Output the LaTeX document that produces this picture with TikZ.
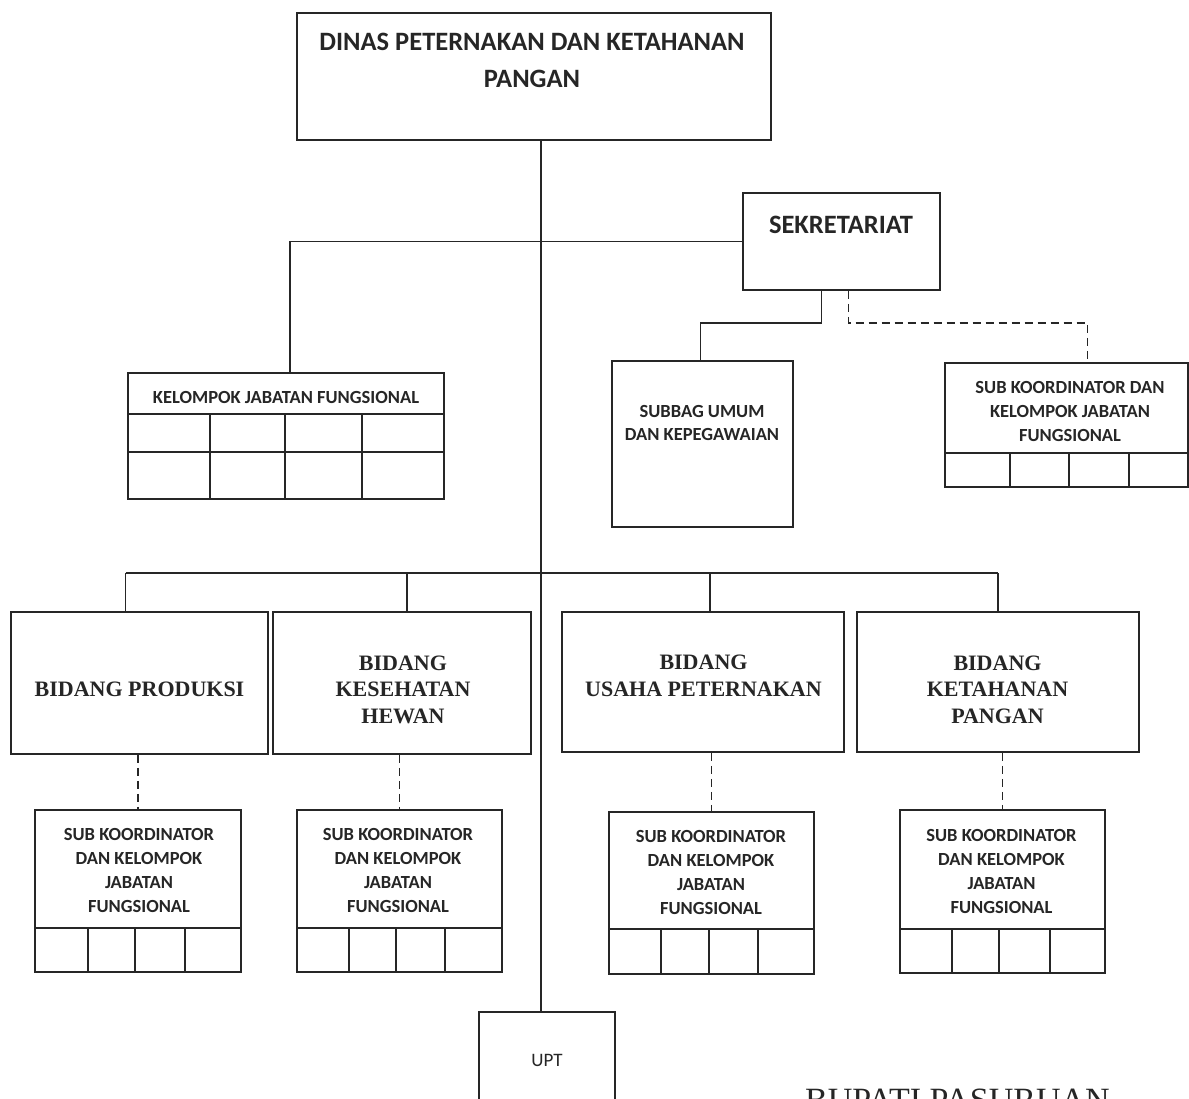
\documentclass[tikz,border=0pt]{standalone}
\usepackage{fontspec}
\setmainfont{Carlito}
\newfontfamily\serifbidang{Liberation Serif}

\tikzset{
  kotak/.style={draw=black!85, line width=1.6pt, inner sep=0pt},
  judul/.style={font=\fontsize{26.5}{37}\selectfont\bfseries, align=center, text=black!85, inner sep=0pt},
  kecil/.style={font=\fontsize{18.5}{24}\selectfont\bfseries, align=center, text=black!85, inner sep=0pt},
  biasa/.style={font=\fontsize{19}{23}\selectfont, text=black!85, inner sep=0pt},
  bidangtxt/.style={font=\serifbidang\fontsize{22}{26.5}\selectfont\bfseries, align=center, text=black!85, inner sep=0pt},
  garis/.style={draw=black!85, line width=1.6pt},
  putus/.style={garis, dash pattern=on 8pt off 5pt},
}

\begin{document}
\begin{tikzpicture}[x=1pt,y=-1pt]
\useasboundingbox (0,0) rectangle (1189,1098);
\clip (0,0) rectangle (1189,1098);
\fill[white] (0,0) rectangle (1189,1098);

% kepala dinas dan sekretariat
\node[kotak, minimum width=474pt, minimum height=127pt] (dinas) at (534,76.5) {};
\node[judul] (dinasTxt) at (532,60.5) {DINAS PETERNAKAN DAN KETAHANAN\\PANGAN};
\node[kotak, minimum width=197pt, minimum height=97pt] (sekre) at (841.5,241.5) {};
\node[judul] (sekreTxt) at (841,225) {SEKRETARIAT};
\coordinate (trunk) at (541,0);

% kelompok jabatan fungsional
\node[kotak, minimum width=316pt, minimum height=126pt] (kjf) at (286,436) {};
\node[kecil] (kjfTxt) at (286,397) {KELOMPOK JABATAN FUNGSIONAL};
\draw[garis] (128,414) -- (444,414);
\draw[garis] (128,452) -- (444,452);
\foreach \x in {210,285,362} \draw[garis] (\x,414) -- (\x,499);

% subbag dan sub koordinator sekretariat
\node[kotak, minimum width=181pt, minimum height=166pt] (subbag) at (702.5,444) {};
\node[kecil, font=\fontsize{18.5}{22.5}\selectfont\bfseries] (subbagTxt) at (702,423) {SUBBAG UMUM\\DAN KEPEGAWAIAN};
\node[kotak, minimum width=243pt, minimum height=124pt] (skSek) at (1066.5,425) {};
\node[kecil] (skSekTxt) at (1070,411) {SUB KOORDINATOR DAN\\KELOMPOK JABATAN\\FUNGSIONAL};

% bidang
\node[kotak, minimum width=257pt, minimum height=142pt] (produksi) at (139.5,683) {};
\node[kotak, minimum width=258pt, minimum height=142pt] (kesehatan) at (402,683) {};
\node[kotak, minimum width=282pt, minimum height=140pt] (usaha) at (703,682) {};
\node[kotak, minimum width=282pt, minimum height=140pt] (ketahanan) at (998,682) {};
\node[bidangtxt] (produksiTxt) at (139.5,689) {BIDANG PRODUKSI};
\node[bidangtxt] (kesehatanTxt) at (403,689.5) {BIDANG\\KESEHATAN\\HEWAN};
\node[bidangtxt] (usahaTxt) at (703.5,676) {BIDANG\\USAHA PETERNAKAN};
\node[bidangtxt] (ketahananTxt) at (997.5,689.5) {BIDANG\\KETAHANAN\\PANGAN};

% sub koordinator tiap bidang
\node[kotak, minimum width=206pt, minimum height=162pt] (sk1) at (138,891) {};
\node[kotak, minimum width=205pt, minimum height=162pt] (sk2) at (399.5,891) {};
\node[kotak, minimum width=205pt, minimum height=162pt] (sk3) at (711.5,893) {};
\node[kotak, minimum width=205pt, minimum height=163pt] (sk4) at (1002.5,891.5) {};
\node[kecil] (sk1Txt) at (139,870.5) {SUB KOORDINATOR\\DAN KELOMPOK\\JABATAN\\FUNGSIONAL};
\node[kecil] (sk2Txt) at (398,870.5) {SUB KOORDINATOR\\DAN KELOMPOK\\JABATAN\\FUNGSIONAL};
\node[kecil] (sk3Txt) at (711,872) {SUB KOORDINATOR\\DAN KELOMPOK\\JABATAN\\FUNGSIONAL};
\node[kecil] (sk4Txt) at (1001.5,871.5) {SUB KOORDINATOR\\DAN KELOMPOK\\JABATAN\\FUNGSIONAL};
\foreach \n/\row/\bawah/\xa/\xb/\xc in {sk1/928/972/88/135/185, sk2/928/972/349/396/445,
    sk3/929/974/661/709/758, sk4/929/973/952/999/1050, skSek/453/487/1010/1069/1129} {
  \draw[garis] (\n.west |- 0,\row) -- (\n.east |- 0,\row);
  \foreach \x in {\xa,\xb,\xc} \draw[garis] (\x,\row) -- (\x,\bawah);
}

% upt
\node[kotak, minimum width=136pt, minimum height=108pt] (upt) at (547,1066) {};
\node[biasa] (uptTxt) at (547,1060) {UPT};
\node[font=\serifbidang\fontsize{34}{40}\selectfont, text=black!85, anchor=base west, inner sep=0pt] (bupati) at (805,1111) {BUPATI PASURUAN};

% garis komando
\draw[garis, line width=1.3pt] (dinas.south -| trunk) -- (upt.north -| trunk);
\draw[garis] (sekre.west) -| ([xshift=4pt]kjf.north);
\draw[garis] ([xshift=-20pt]sekre.south) -- ++(0,32) -| ([xshift=-2pt]subbag.north);
\draw[putus] ([xshift=7pt]sekre.south) -- ++(0,32) -| ([xshift=21pt]skSek.north);
\coordinate (bus) at (541,573);
\draw[garis] ([xshift=-14pt]produksi.north |- bus) -- (ketahanan.north |- bus);
\draw[garis] ([xshift=-14pt]produksi.north |- bus) -- ([xshift=-14pt]produksi.north);
\draw[garis] ([xshift=5pt]kesehatan.north |- bus) -- ([xshift=5pt]kesehatan.north);
\draw[garis] ([xshift=7pt]usaha.north |- bus) -- ([xshift=7pt]usaha.north);
\draw[garis] (ketahanan.north |- bus) -- (ketahanan.north);
% garis koordinasi
\foreach \a/\b in {produksi/sk1, kesehatan/sk2, usaha/sk3, ketahanan/sk4}
  \draw[putus] (\b.north |- \a.south) -- (\b.north);
\end{tikzpicture}
\end{document}
